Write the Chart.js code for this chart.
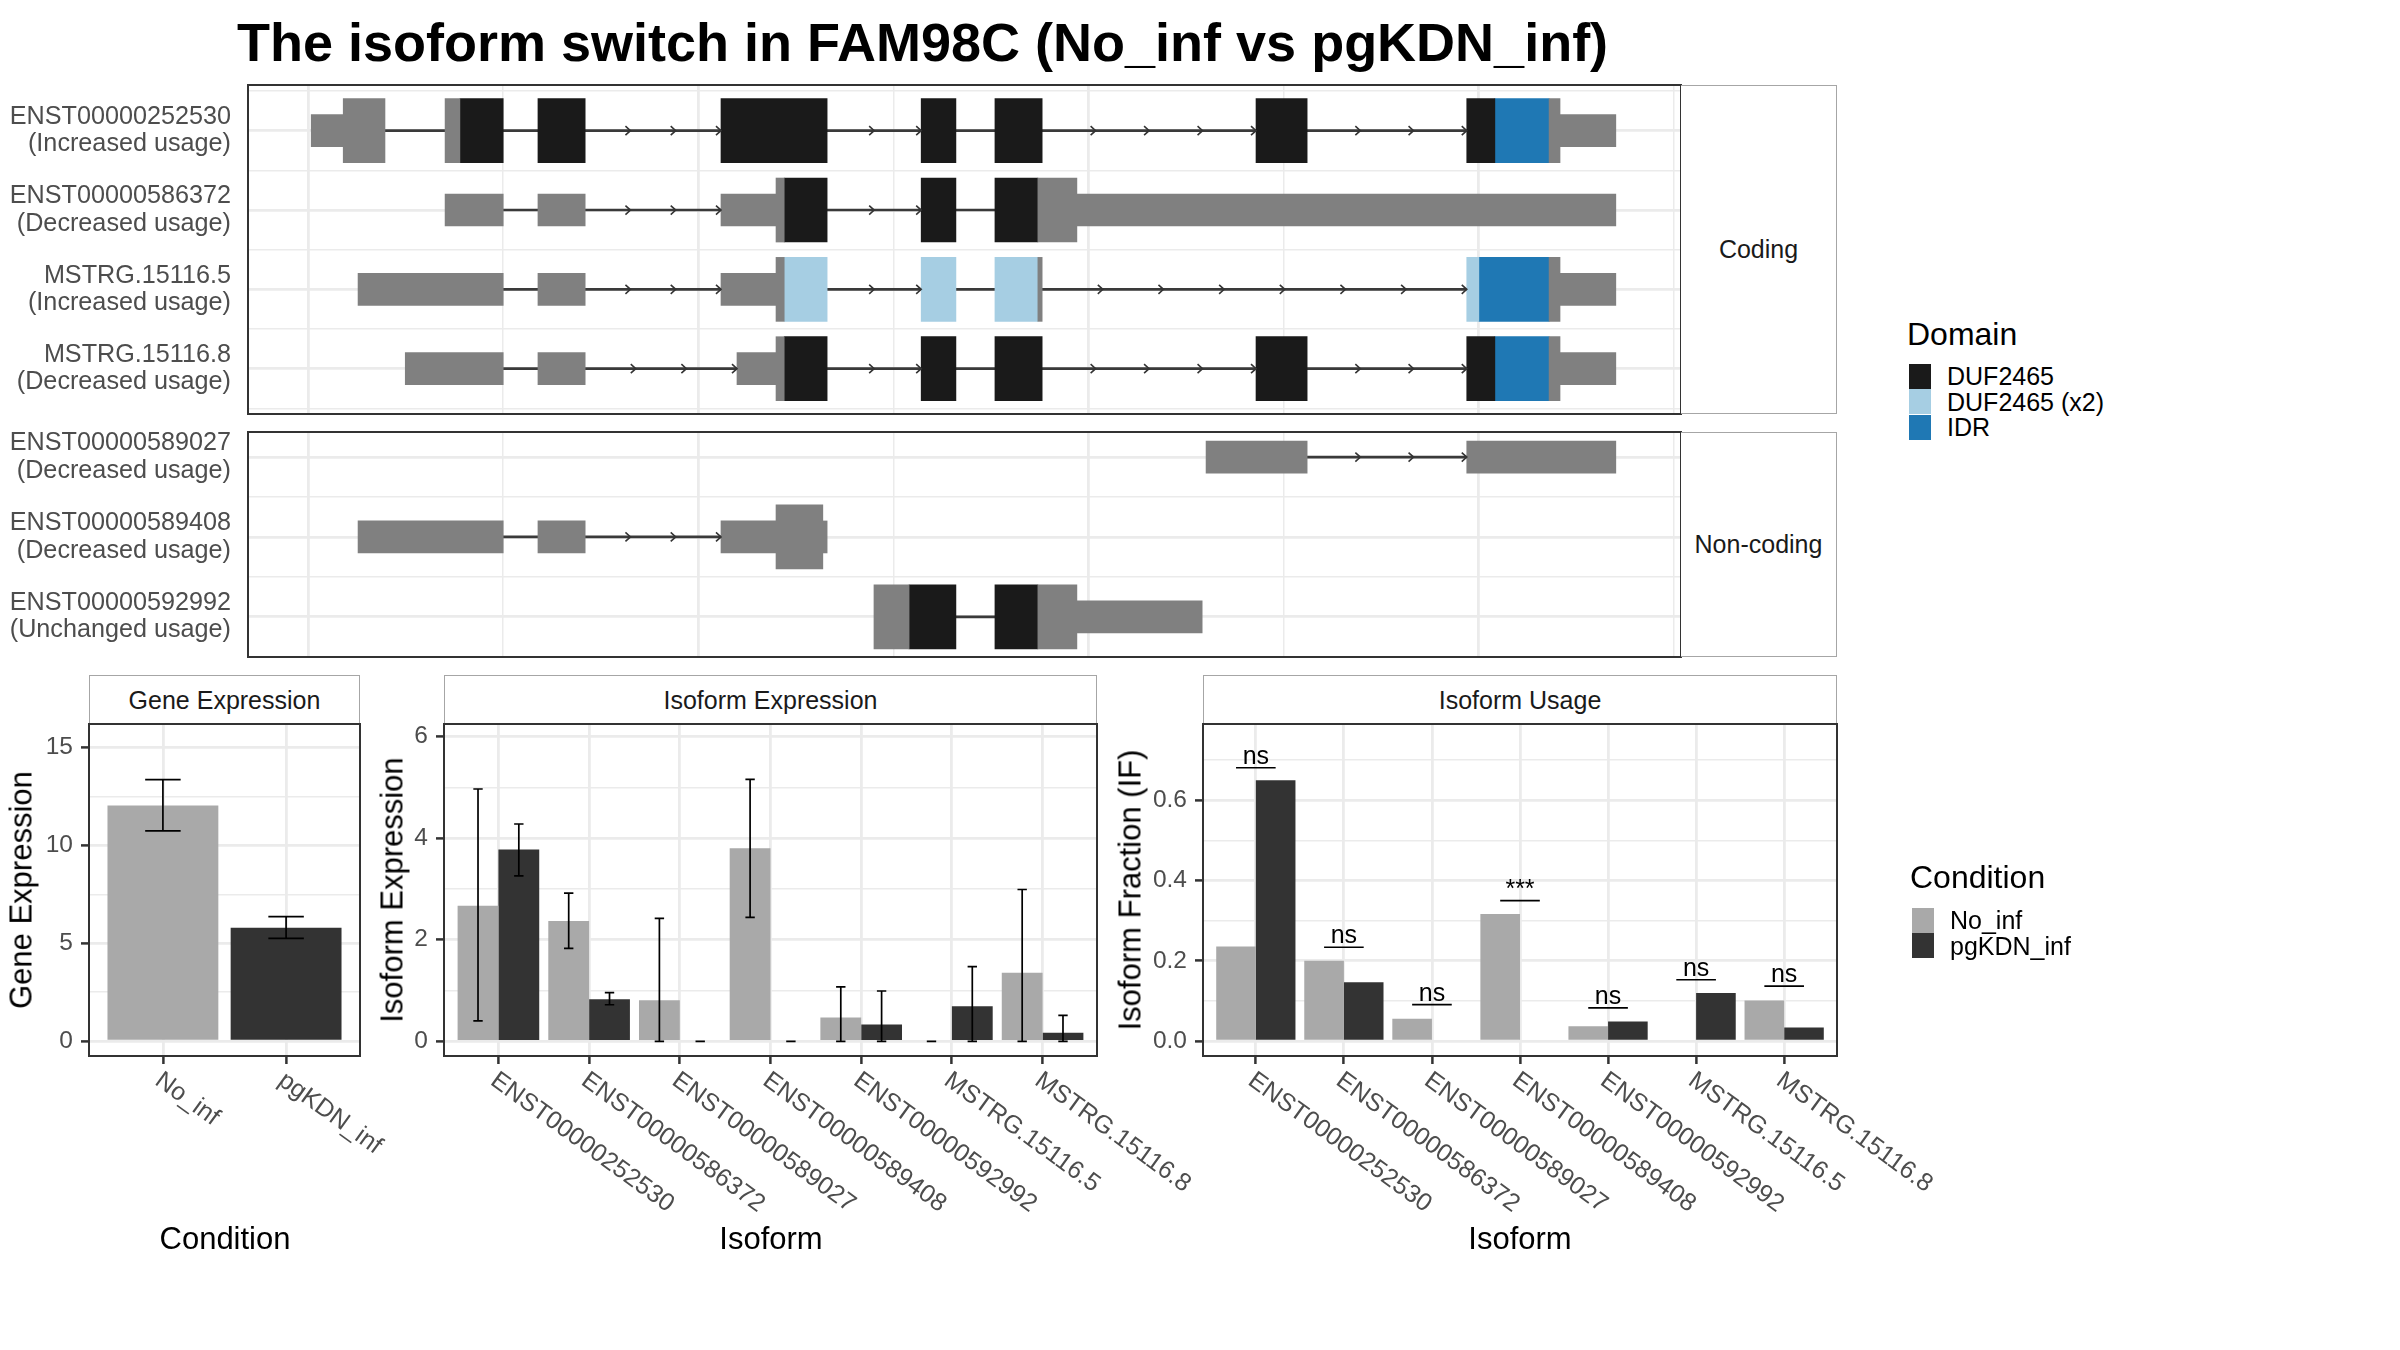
<!DOCTYPE html>
<html>
<head>
<meta charset="utf-8">
<title>The isoform switch in FAM98C</title>
<script src="https://cdn.jsdelivr.net/npm/chart.js@4.4.1/dist/chart.umd.min.js"></script>
<style>
  body { margin: 0; background: #fff; }
  #page { position: relative; width: 2400px; height: 1350px; overflow: hidden;
    font-family: "Liberation Sans", Arial, sans-serif; color: #000; }
  #page canvas { position: absolute; }
  .t { position: absolute; white-space: nowrap; line-height: 1; z-index: 2; }
  .c { transform: translate(-50%, -50%); }
  .v { transform: translate(-50%, -50%) rotate(-90deg); }
  .l { transform: translateY(-50%); }
  .strip { position: absolute; box-sizing: border-box; border: 1.5px solid #a6a6a6; background: #fff;
    display: flex; align-items: center; justify-content: center; font-size: 25px; color: #1a1a1a; }
  .key { position: absolute; width: 22px; height: 25px; }
</style>
</head>
<body>
<div id="page">
  <div class="t" style="left:237px;top:15px;font-size:54px;font-weight:bold;">The isoform switch in FAM98C (No_inf vs pgKDN_inf)</div>

  <canvas id="coding" width="1684" height="335" style="left:0;top:82px"></canvas>
  <canvas id="noncoding" width="1684" height="231" style="left:0;top:429px"></canvas>
  <div class="strip" style="left:1681px;top:85px;width:156px;height:329px;border-left:none">Coding</div>
  <div class="strip" style="left:1681px;top:432px;width:156px;height:225px;border-left:none">Non-coding</div>

  <div class="strip" style="left:89px;top:675px;width:271px;height:50px">Gene Expression</div>
  <div class="strip" style="left:444px;top:675px;width:653px;height:50px">Isoform Expression</div>
  <div class="strip" style="left:1203px;top:675px;width:634px;height:50px">Isoform Usage</div>

  <canvas id="gene" width="420" height="500" style="left:0;top:721px"></canvas>
  <canvas id="isoexpr" width="830" height="500" style="left:380px;top:721px"></canvas>
  <canvas id="usage" width="830" height="500" style="left:1130px;top:721px"></canvas>

  <div class="t v" style="left:21px;top:890px;font-size:31px">Gene Expression</div>
  <div class="t v" style="left:392px;top:890px;font-size:31px">Isoform Expression</div>
  <div class="t v" style="left:1130px;top:890px;font-size:31px">Isoform Fraction (IF)</div>
  <div class="t c" style="left:225px;top:1238px;font-size:31px">Condition</div>
  <div class="t c" style="left:771px;top:1238px;font-size:31px">Isoform</div>
  <div class="t c" style="left:1520px;top:1238px;font-size:31px">Isoform</div>

  <div id="legends"></div>
</div>

<script>
  // ---- transcript structures (relative genomic coordinates) ----
  const codingIds = ["ENST00000252530", "ENST00000586372", "MSTRG.15116.5", "MSTRG.15116.8"];
  const codingUsage = ["Increased usage", "Decreased usage", "Increased usage", "Decreased usage"];
  const nonCodingIds = ["ENST00000589027", "ENST00000589408", "ENST00000592992"];
  const nonCodingUsage = ["Decreased usage", "Decreased usage", "Unchanged usage"];

  // [row, start, end]
  const codingUtr = [
    [0, 1008, 1090], [0, 4208, 4351],
    [1, 1351, 1500], [1, 1589, 1710], [1, 2058, 2199], [1, 2970, 4351],
    [2, 1128, 1500], [2, 1589, 1710], [2, 2058, 2199], [2, 4208, 4351],
    [3, 1249, 1500], [3, 1589, 1710], [3, 2099, 2199], [3, 4208, 4351],
  ];
  const codingCds = [
    [0, 1090, 1197], [0, 1351, 1389], [0, 4180, 4208],
    [1, 2199, 2220], [1, 2870, 2970],
    [2, 2199, 2220], [2, 2870, 2881], [2, 4180, 4208],
    [3, 2199, 2220], [3, 4180, 4208],
  ];
  const codingDuf = [
    [0, 1389, 1500], [0, 1589, 1710], [0, 2058, 2330], [0, 2571, 2660], [0, 2760, 2881], [0, 3429, 3560], [0, 3969, 4041],
    [1, 2220, 2330], [1, 2571, 2660], [1, 2760, 2870],
    [3, 2220, 2330], [3, 2571, 2660], [3, 2760, 2881], [3, 3429, 3560], [3, 3969, 4041],
  ];
  const codingDufX2 = [[2, 2220, 2330], [2, 2571, 2660], [2, 2760, 2870], [2, 3969, 4000]];
  const codingIdr = [[0, 4041, 4180], [2, 4000, 4180], [3, 4041, 4180]];
  const codingIntrons = [
    [0, 1197, 1351], [0, 1500, 1589], [0, 1710, 2058], [0, 2330, 2571], [0, 2660, 2760], [0, 2881, 3429], [0, 3560, 3969],
    [1, 1500, 1589], [1, 1710, 2058], [1, 2330, 2571], [1, 2660, 2760],
    [2, 1500, 1589], [2, 1710, 2058], [2, 2330, 2571], [2, 2660, 2760], [2, 2881, 3969],
    [3, 1500, 1589], [3, 1710, 2099], [3, 2330, 2571], [3, 2660, 2760], [3, 2881, 3429], [3, 3560, 3969],
  ];

  const nonCodingUtr = [
    [0, 3301, 3560], [0, 3969, 4351],
    [1, 1128, 1500], [1, 1589, 1710], [1, 2058, 2199], [1, 2319, 2330],
    [2, 2970, 3291],
  ];
  const nonCodingCds = [[1, 2199, 2319], [2, 2450, 2540], [2, 2870, 2970]];
  const nonCodingDuf = [[2, 2540, 2660], [2, 2760, 2870]];
  const nonCodingIntrons = [[0, 3560, 3969], [1, 1500, 1589], [1, 1710, 2058], [2, 2660, 2760]];

  const genomeMin = 846;
  const genomeMax = 4518;
  const genomeGrid = [1000, 1500, 2000, 2500, 3000, 3500, 4000, 4500];

  // ---- expression / usage ----
  const conditions = ["No_inf", "pgKDN_inf"];
  const geneExpr = [12.04, 5.80];
  const geneErrLow = [10.75, 5.25];
  const geneErrHigh = [13.37, 6.36];
  const geneTicks = [0, 5, 10, 15];
  const geneMinor = [2.5, 7.5, 12.5];

  const isoforms = ["ENST00000252530", "ENST00000586372", "ENST00000589027", "ENST00000589408",
    "ENST00000592992", "MSTRG.15116.5", "MSTRG.15116.8"];
  const isoExprNoInf = [2.67, 2.37, 0.81, 3.80, 0.47, 0, 1.35];
  const isoExprPg = [3.78, 0.83, 0, 0, 0.33, 0.69, 0.17];
  const isoErrLowNoInf = [0.40, 1.83, 0, 2.44, 0, 0, 0];
  const isoErrHighNoInf = [4.97, 2.92, 2.42, 5.16, 1.07, 0, 2.99];
  const isoErrLowPg = [3.26, 0.72, 0, 0, 0, 0, 0];
  const isoErrHighPg = [4.28, 0.96, 0, 0, 0.99, 1.47, 0.51];
  const isoExprTicks = [0, 2, 4, 6];
  const isoExprMinor = [1, 3, 5];

  const usageNoInf = [0.236, 0.200, 0.056, 0.317, 0.037, 0, 0.101];
  const usagePg = [0.650, 0.147, 0, 0, 0.049, 0.120, 0.034];
  const usageSig = ["ns", "ns", "ns", "***", "ns", "ns", "ns"];
  const usageSigY = [0.681, 0.234, 0.091, 0.350, 0.083, 0.153, 0.137];
  const usageTicks = [0, 0.2, 0.4, 0.6];
  const usageMinor = [0.1, 0.3, 0.5, 0.7];

  const domainNames = ["DUF2465", "DUF2465 (x2)", "IDR"];

  // ---- styles ----
  const EXON_GREY = "#808080";
  const DOMAIN_COLORS = ["#1a1a1a", "#a6cee3", "#1f78b4"];
  const COND_COLORS = ["#a9a9a9", "#333333"];
  const GRID = "#ebebeb";
  const AXIS_TEXT = "#4d4d4d";

  Chart.defaults.font.family = "\"Liberation Sans\", Arial, sans-serif";
  Chart.defaults.animation = false;
  Chart.defaults.events = [];
  Chart.defaults.plugins.legend.display = false;
  Chart.defaults.plugins.tooltip.enabled = false;

  // fixed axis size, no label overflow padding (keeps the panel where ggplot put it)
  const fixWidth = (w) => (s) => { s.width = w; s.paddingTop = 0; s.paddingBottom = 0; };
  const fixHeight = (h) => (s) => { s.height = h; s.paddingLeft = 0; s.paddingRight = 0; };

  const panelBorder = {
    id: "panelBorder",
    afterDraw(chart) {
      const { ctx, chartArea: a } = chart;
      ctx.save();
      ctx.strokeStyle = "#333333";
      ctx.lineWidth = 2;
      ctx.strokeRect(a.left, a.top, a.right - a.left, a.bottom - a.top);
      ctx.restore();
    },
  };

  function intronArrows(introns) {
    return {
      id: "intronArrows",
      afterDatasetsDraw(chart) {
        const { ctx, scales: { x, y } } = chart;
        ctx.save();
        ctx.strokeStyle = "#333333";
        ctx.lineWidth = 1.6;
        introns.forEach(([r, a, b]) => {
          const len = b - a;
          if (len < 200) return;
          const n = Math.ceil(len / 156);
          const py = y.getPixelForValue(r);
          for (let k = 1; k <= n; k++) {
            const px = x.getPixelForValue(a + (len * k) / n);
            ctx.beginPath();
            ctx.moveTo(px - 5, py - 4.5);
            ctx.lineTo(px, py);
            ctx.lineTo(px - 5, py + 4.5);
            ctx.stroke();
          }
        });
        ctx.restore();
      },
    };
  }

  function transcriptChart(canvasId, ids, usage, yMin, yMax, layers, introns) {
    const datasets = layers.map((l) => ({
      data: l.rows.map(([r, a, b]) => ({ y: r, x: [a, b] })),
      backgroundColor: l.color,
      barThickness: l.tall ? 64 : 32,
      grouped: false,
      borderWidth: 0,
    }));
    datasets.push({
      data: introns.map(([r, a, b]) => ({ y: r, x: [a, b] })),
      backgroundColor: "#3a3a3a",
      barThickness: 2,
      grouped: false,
      borderWidth: 0,
    });
    const yTicks = [];
    for (let v = Math.ceil(yMin * 2) / 2; v <= yMax + 1e-9; v += 0.5) yTicks.push(v);

    return new Chart(document.getElementById(canvasId), {
      type: "bar",
      data: { datasets },
      options: {
        indexAxis: "y",
        responsive: false,
        layout: { padding: { top: 3, right: 3, bottom: 3, left: 0 } },
        scales: {
          x: {
            type: "linear", min: genomeMin, max: genomeMax, offset: false,
            afterBuildTicks: (s) => { s.ticks = genomeGrid.map((v) => ({ value: v })); },
            afterFit: fixHeight(0),
            ticks: { display: false },
            border: { display: false },
            grid: {
              offset: false,
              drawTicks: false,
              color: GRID,
              lineWidth: (c) => (c.tick && c.tick.value % 1000 === 0 ? 2.8 : 1.5),
            },
          },
          y: {
            type: "linear", reverse: true, min: yMin, max: yMax, offset: false,
            afterBuildTicks: (s) => { s.ticks = yTicks.map((v) => ({ value: v })); },
            afterFit: fixWidth(248),
            ticks: {
              autoSkip: false,
              padding: 17, color: AXIS_TEXT, font: { size: 25.2, lineHeight: 1.08 },
              callback: (v) => (Number.isInteger(v) ? [ids[v], "(" + usage[v] + ")"] : ""),
            },
            border: { display: false },
            grid: {
              offset: false,
              drawTicks: false,
              color: GRID,
              lineWidth: (c) => (c.tick && Number.isInteger(c.tick.value) ? 2.8 : 1.5),
            },
          },
        },
      },
      plugins: [intronArrows(introns), panelBorder],
    });
  }

  transcriptChart("coding", codingIds, codingUsage, -0.576, 3.571, [
    { rows: codingUtr, color: EXON_GREY, tall: false },
    { rows: codingCds, color: EXON_GREY, tall: true },
    { rows: codingDuf, color: DOMAIN_COLORS[0], tall: true },
    { rows: codingDufX2, color: DOMAIN_COLORS[1], tall: true },
    { rows: codingIdr, color: DOMAIN_COLORS[2], tall: true },
  ], codingIntrons);

  transcriptChart("noncoding", nonCodingIds, nonCodingUsage, -0.314, 2.503, [
    { rows: nonCodingUtr, color: EXON_GREY, tall: false },
    { rows: nonCodingCds, color: EXON_GREY, tall: true },
    { rows: nonCodingDuf, color: DOMAIN_COLORS[0], tall: true },
  ], nonCodingIntrons);

  // ---- bar panels ----
  const errorBars = {
    id: "errorBars",
    afterDatasetsDraw(chart) {
      const { ctx } = chart;
      const ys = chart.scales.y;
      ctx.save();
      ctx.strokeStyle = "#000";
      ctx.lineWidth = 1.7;
      chart.data.datasets.forEach((ds, i) => {
        if (!ds.errLow) return;
        chart.getDatasetMeta(i).data.forEach((bar, j) => {
          const lo = ys.getPixelForValue(ds.errLow[j]);
          const hi = ys.getPixelForValue(ds.errHigh[j]);
          const half = (bar.width * ds.capRatio) / 2;
          ctx.beginPath();
          ctx.moveTo(bar.x, lo); ctx.lineTo(bar.x, hi);
          ctx.moveTo(bar.x - half, lo); ctx.lineTo(bar.x + half, lo);
          ctx.moveTo(bar.x - half, hi); ctx.lineTo(bar.x + half, hi);
          ctx.stroke();
        });
      });
      ctx.restore();
    },
  };

  function rotatedLabels(labels) {
    return {
      id: "rotatedLabels",
      afterDraw(chart) {
        const { ctx, chartArea } = chart;
        const xs = chart.scales.x;
        ctx.save();
        ctx.fillStyle = AXIS_TEXT;
        ctx.font = "25px \"Liberation Sans\", Arial, sans-serif";
        ctx.textAlign = "left";
        ctx.textBaseline = "middle";
        labels.forEach((lab, i) => {
          ctx.save();
          ctx.translate(xs.getPixelForValue(i) - 5, chartArea.bottom + 22);
          ctx.rotate((36 * Math.PI) / 180);
          ctx.fillText(lab, 0, 0);
          ctx.restore();
        });
        ctx.restore();
      },
    };
  }

  function sigMarks(labels, heights) {
    return {
      id: "sigMarks",
      afterDatasetsDraw(chart) {
        const { ctx } = chart;
        const ys = chart.scales.y;
        const a = chart.getDatasetMeta(0).data;
        const b = chart.getDatasetMeta(1).data;
        ctx.save();
        ctx.strokeStyle = "#000";
        ctx.fillStyle = "#000";
        ctx.lineWidth = 1.6;
        ctx.font = "25px \"Liberation Sans\", Arial, sans-serif";
        ctx.textAlign = "center";
        ctx.textBaseline = "alphabetic";
        labels.forEach((lab, i) => {
          const y = ys.getPixelForValue(heights[i]);
          ctx.beginPath();
          ctx.moveTo(a[i].x, y);
          ctx.lineTo(b[i].x, y);
          ctx.stroke();
          ctx.fillText(lab, (a[i].x + b[i].x) / 2, y - 4);
        });
        ctx.restore();
      },
    };
  }

  function barPanel(canvasId, o) {
    const ticks = o.major.concat(o.minor).sort((p, q) => p - q);
    const isMajor = (c) => c.tick && o.major.includes(c.tick.value);
    return new Chart(document.getElementById(canvasId), {
      type: "bar",
      data: { datasets: o.datasets },
      options: {
        responsive: false,
        layout: { padding: { top: 3, right: o.padRight, bottom: 0, left: 0 } },
        datasets: { bar: { categoryPercentage: 0.9, barPercentage: 1.0, borderWidth: 0 } },
        scales: {
          x: {
            type: "linear", min: -0.6, max: o.labels.length - 0.4, offset: false,
            afterBuildTicks: (s) => { s.ticks = o.labels.map((_, i) => ({ value: i })); },
            afterFit: fixHeight(500 - 3 - 332),
            ticks: { display: false },
            border: { display: false },
            grid: { offset: false, color: GRID, lineWidth: 2.8, tickColor: "#333333", tickLength: 8, tickWidth: 2.5 },
          },
          y: {
            type: "linear", min: o.yMin, max: o.yMax,
            afterBuildTicks: (s) => { s.ticks = ticks.map((v) => ({ value: v })); },
            afterFit: fixWidth(o.axisWidth),
            ticks: {
              autoSkip: false,
              padding: 8, color: AXIS_TEXT, font: { size: 24.5 },
              callback: (v) => (o.major.includes(v) ? o.fmt(v) : ""),
            },
            border: { display: false },
            grid: {
              tickLength: 8,
              color: GRID,
              lineWidth: (c) => (isMajor(c) ? 2.8 : 1.5),
              tickColor: (c) => (isMajor(c) ? "#333333" : "rgba(0,0,0,0)"),
              tickWidth: 2.5,
            },
          },
        },
      },
      plugins: [errorBars, rotatedLabels(o.labels), panelBorder].concat(o.extra || []),
    });
  }

  const xy = (vals) => vals.map((v, i) => ({ x: i, y: v }));

  barPanel("gene", {
    labels: conditions, yMin: -0.76, yMax: 16.21, major: geneTicks, minor: geneMinor,
    fmt: (v) => String(v), axisWidth: 89, padRight: 60,
    datasets: [{
      data: xy(geneExpr), backgroundColor: COND_COLORS,
      errLow: geneErrLow, errHigh: geneErrHigh, capRatio: 0.32,
    }],
  });

  barPanel("isoexpr", {
    labels: isoforms, yMin: -0.29, yMax: 6.25, major: isoExprTicks, minor: isoExprMinor,
    fmt: (v) => String(v), axisWidth: 64, padRight: 113,
    datasets: [
      { data: xy(isoExprNoInf), backgroundColor: COND_COLORS[0],
        errLow: isoErrLowNoInf, errHigh: isoErrHighNoInf, capRatio: 0.23 },
      { data: xy(isoExprPg), backgroundColor: COND_COLORS[1],
        errLow: isoErrLowPg, errHigh: isoErrHighPg, capRatio: 0.23 },
    ],
  });

  barPanel("usage", {
    labels: isoforms, yMin: -0.037, yMax: 0.79, major: usageTicks, minor: usageMinor,
    fmt: (v) => v.toFixed(1), axisWidth: 73, padRight: 123,
    datasets: [
      { data: xy(usageNoInf), backgroundColor: COND_COLORS[0] },
      { data: xy(usagePg), backgroundColor: COND_COLORS[1] },
    ],
    extra: [sigMarks(usageSig, usageSigY)],
  });

  // ---- legends ----
  function legend(title, names, colors, left, titleY, firstRowY) {
    let html = "<div class=\"t l\" style=\"left:" + (left - 2) + "px;top:" + titleY + "px;font-size:32px\">" + title + "</div>";
    names.forEach((n, i) => {
      const cy = firstRowY + i * 25.5;
      html += "<div class=\"key\" style=\"left:" + left + "px;top:" + (cy - 12.5) + "px;background:" + colors[i] + "\"></div>";
      html += "<div class=\"t l\" style=\"left:" + (left + 38) + "px;top:" + cy + "px;font-size:25px\">" + n + "</div>";
    });
    return html;
  }
  document.getElementById("legends").innerHTML =
    legend("Domain", domainNames, DOMAIN_COLORS, 1909, 334, 376) +
    legend("Condition", conditions, COND_COLORS, 1912, 877, 920);
</script>
</body>
</html>
